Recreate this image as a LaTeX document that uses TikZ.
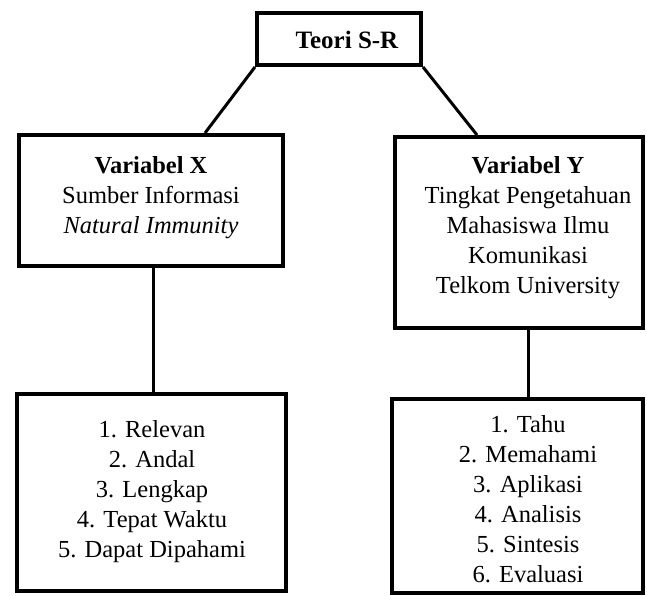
\documentclass[tikz,border=0pt]{standalone}
\usepackage{fontspec}
\setmainfont{Liberation Serif}
\begin{document}
\begin{tikzpicture}[x=1pt,y=-1pt,
  box/.style={draw=black, line width=4pt, rectangle, inner sep=0pt},
  txt/.style={align=center, font=\fontsize{24.5}{30}\selectfont, inner sep=0pt},
  conn/.style={draw=black, line width=3pt}]
\useasboundingbox (0,0) rectangle (647,596);
% boxes
\node[box, minimum width=164pt, minimum height=52pt] (teori) at (339,39) {};
\node[txt, font=\fontsize{25}{30}\selectfont\bfseries] (tteori) at (347,40) {Teori S-R};
\node[box, minimum width=264pt, minimum height=131pt] (vx) at (151,200.5) {};
\node[txt] (tvx) at (151,198) {\textbf{Variabel X}\\Sumber Informasi\\\textit{Natural Immunity}};
\node[box, minimum width=248pt, minimum height=191pt] (vy) at (519,232.5) {};
\node[txt] (tvy) at (528,228) {\textbf{Variabel Y}\\Tingkat Pengetahuan\\Mahasiswa Ilmu\\Komunikasi\\Telkom University};
\node[box, minimum width=269pt, minimum height=197pt] (ix) at (151.5,492.5) {};
\node[txt] (tix) at (152,492) {1. Relevan\\2. Andal\\3. Lengkap\\4. Tepat Waktu\\5. Dapat Dipahami};
\node[box, minimum width=251pt, minimum height=194pt] (iy) at (517.5,496) {};
\node[txt] (tiy) at (528,499) {1. Tahu\\2. Memahami\\3. Aplikasi\\4. Analisis\\5. Sintesis\\6. Evaluasi};
% connectors
\draw[conn] (teori.south west) -- (vx.north -| 205,0);
\draw[conn] (teori.south east) -- (vy.north -| 477,0);
\draw[conn] (vx.south -| 153,0) -- (ix.north -| 153,0);
\draw[conn] (vy.south -| 528,0) -- (iy.north -| 528,0);
\end{tikzpicture}
\end{document}
